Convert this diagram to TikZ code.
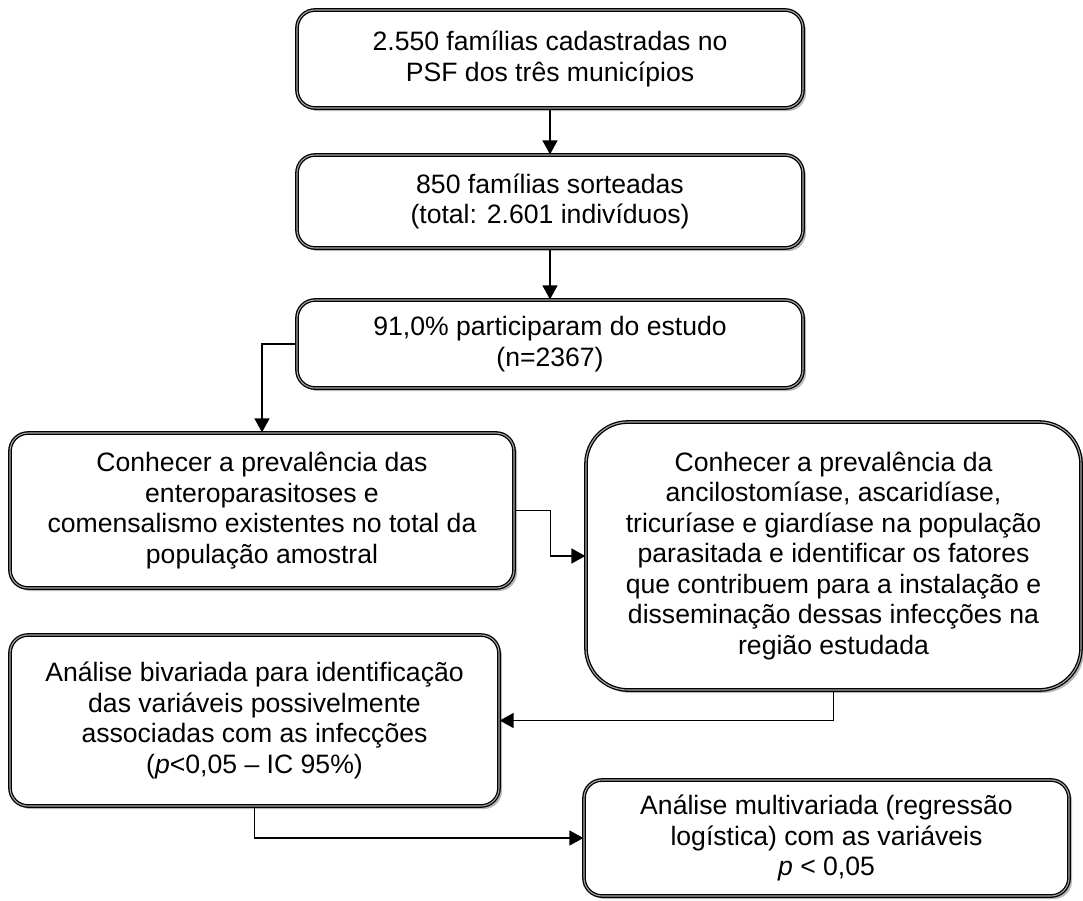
\documentclass[tikz,border=0pt]{standalone}
\usepackage{fontspec}
\setmainfont{Liberation Sans}
\usetikzlibrary{arrows.meta,shadows}
\begin{document}
\begin{tikzpicture}[x=1pt,y=1pt,
  box/.style={draw=black, line width=1.3pt, double=gray!70, double distance=1.1pt,
    fill=white, rounded corners=18pt, align=center, inner sep=0pt,
    font=\fontsize{26.6}{30.5}\selectfont,
    drop shadow={shadow xshift=3pt, shadow yshift=-3pt, fill=gray!55, opacity=1}},
  arr/.style={line width=1.5pt, -{Triangle[length=14pt,width=15pt]}}]
\useasboundingbox (0,0) rectangle (1083,-900);
\node[box, minimum width=506pt, minimum height=98pt] (b1) at (550,-59)
  {2.550 famílias cadastradas no\\PSF dos três municípios};
\node[box, minimum width=506pt, minimum height=93pt] (b2) at (550,-201.5)
  {850 famílias sorteadas\\(total: 2.601 indivíduos)};
\node[box, minimum width=506pt, minimum height=88pt] (b3) at (550,-344)
  {91,0\% participaram do estudo\\(n=2367)};
\node[box, minimum width=504pt, minimum height=155pt] (b4) at (262,-510.5)
  {Conhecer a prevalência das\\enteroparasitoses e\\comensalismo existentes no total da\\população amostral};
\node[box, rounded corners=42pt, minimum width=495pt, minimum height=268pt] (b5) at (833.5,-556)
  {Conhecer a prevalência da\\ancilostomíase, ascaridíase,\\tricuríase e giardíase na população\\parasitada e identificar os fatores\\que contribuem para a instalação e\\disseminação dessas infecções na\\região estudada};
\node[box, minimum width=489pt, minimum height=171pt] (b6) at (254.5,-720.5)
  {Análise bivariada para identificação\\das variáveis possivelmente\\associadas com as infecções\\(\textit{p}<0,05 – IC 95\%)};
\node[box, minimum width=485pt, minimum height=116pt] (b7) at (826.5,-838)
  {Análise multivariada (regressão\\logística) com as variáveis\\\textit{p} < 0,05};
\draw[arr] (b1) -- (b2);
\draw[arr] (b2) -- (b3);
\draw[arr] (b3.west) -| (b4.north);
\draw[arr] (b4.east) -- ++(36pt,0) |- (b5.west);
\draw[arr] (b5.south) |- (b6.east);
\draw[arr] (b6.south) |- (b7.west);
\end{tikzpicture}
\end{document}
